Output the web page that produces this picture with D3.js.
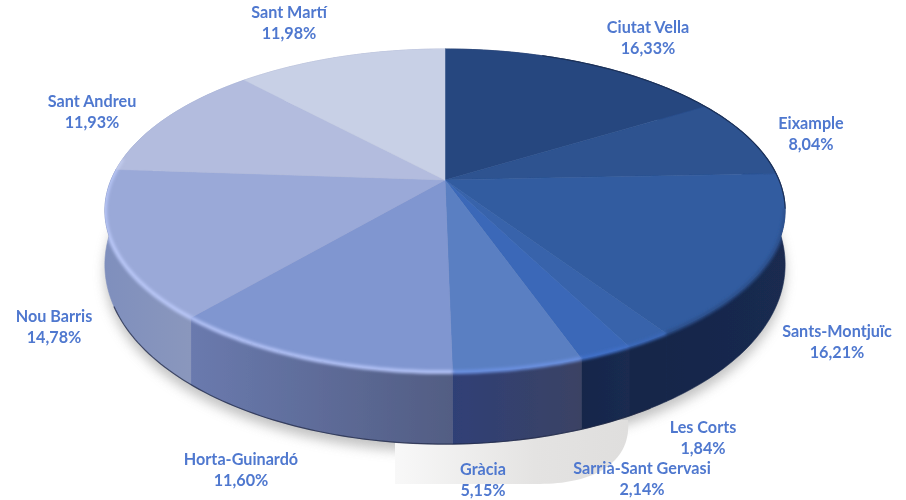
<!DOCTYPE html>
<html>
<head>
<meta charset="utf-8">
<script src="https://d3js.org/d3.v7.min.js"></script>
<style>
html, body { margin: 0; padding: 0; background: #fff; }
svg { display: block; }
</style>
</head>
<body>
<div id="chart"></div>
<script>
// Districts, clockwise from 12 o'clock
var districts = ["Ciutat Vella", "Eixample", "Sants-Montjuïc", "Les Corts", "Sarrià-Sant Gervasi", "Gràcia", "Horta-Guinardó", "Nou Barris", "Sant Andreu", "Sant Martí"]
var shares = [16.33, 8.04, 16.21, 1.84, 2.14, 5.15, 11.60, 14.78, 11.93, 11.98]

// Styles
var topColors = ["#27477f", "#2d5290", "#325ca0", "#3763ab", "#3a68b8", "#5a7fc2", "#8096d0", "#9aa9d8", "#b3bcde", "#c8d0e6"]
var wallLeft = ["#1f3563", "#1a2d56", "#16264a", "#16264a", "#16264a", "#2f4076", "#6a7aae", "#7f8fbd", "#97a3ca", "#a0a8c8"]
var wallRight = ["#1f3563", "#1f3563", "#1a2a50", "#16264a", "#1a2a50", "#3b4364", "#525d83", "#8a97bd", "#97a3ca", "#a0a8c8"]
var bevelColors = ["#1b3058", "#1b3058", "#2b4f8c", "#3a68b8", "#4070c8", "#6a90e0", "#b0c0f4", "#b8c6f6", "#c4cdf0", "#c8d0e6"]
// label centres, by hand like the original layout
var labelPos = [[648, 37], [811, 133], [837, 341], [703, 437], [642, 478], [483, 479], [241, 469], [54, 326], [92, 111], [289, 22]]

var width = 906, height = 500

var svg = d3.select("#chart").append("svg")
    .attr("width", width)
    .attr("height", height)

var defs = svg.append("defs")
defs.append("filter").attr("id", "shadowBlur")
    .attr("x", "-20%").attr("y", "-20%").attr("width", "140%").attr("height", "140%")
    .append("feGaussianBlur").attr("stdDeviation", 6)
defs.append("filter").attr("id", "bevelBlur")
    .attr("x", "-5%").attr("y", "-5%").attr("width", "110%").attr("height", "110%")
    .append("feGaussianBlur").attr("stdDeviation", 1.6)
defs.append("filter").attr("id", "edgeBlur")
    .attr("x", "-5%").attr("y", "-5%").attr("width", "110%").attr("height", "110%")
    .append("feGaussianBlur").attr("stdDeviation", 0.6)
defs.append("filter").attr("id", "soft")
    .attr("x", "-5%").attr("y", "-5%").attr("width", "110%").attr("height", "110%")
    .append("feGaussianBlur").attr("stdDeviation", 0.4)
defs.append("filter").attr("id", "textSoft")
    .append("feGaussianBlur").attr("stdDeviation", 0.35)

var patchGrad = defs.append("linearGradient")
    .attr("id", "patchGrad")
    .attr("x1", 0).attr("x2", 1).attr("y1", 0).attr("y2", 0)
patchGrad.append("stop").attr("offset", 0).attr("stop-color", "#f8f8f8")
patchGrad.append("stop").attr("offset", 0.6).attr("stop-color", "#e4e3e2")
patchGrad.append("stop").attr("offset", 1).attr("stop-color", "#dfdedd")

// Perspective of the disc: the apex sits above the middle of the rim ellipse
var cx = 445, cy = 180, a = 334, b = 155.8, k = -0.189

function project(angle, drop) {
    var u = Math.sin(angle), v = -Math.cos(angle)
    var den = 1 + k*v
    var extra = drop ? 50 + 22*v : 0
    return [cx + a*u/den, cy + b*v/den + extra]
}

function rimPoints(start, end, drop) {
    var n = Math.max(2, Math.ceil((end - start)/0.02))
    return d3.range(n + 1).map(function(i) {
        return project(start + (end - start)*i/n, drop)
    })
}

var line = d3.line()
var pie = d3.pie().sort(null).value(function(d) { return d })
var arcs = pie(shares)

// keeps the bevel glow from leaking outside the pie
var pieClip = defs.append("clipPath").attr("id", "pieClip")
pieClip.append("path").attr("d", line(rimPoints(0, 2*Math.PI, false)) + "Z")
pieClip.append("path").attr("d", line(rimPoints(1.4, 4.9, false).concat(rimPoints(1.4, 4.9, true).reverse())) + "Z")

// Shadows
var full = rimPoints(0, 2*Math.PI, true)
svg.append("path")
    .attr("d", line(full.map(function(p) { return [p[0], p[1] + 8] })) + "Z")
    .style("fill", "#a8a8a8")
    .style("opacity", 0.7)
    .attr("filter", "url(#shadowBlur)")

// light patch under the pie
var patch = d3.path()
patch.moveTo(395, 420)
patch.lineTo(628, 420)
patch.bezierCurveTo(632, 465, 590, 484, 540, 484)
patch.lineTo(395, 484)
patch.closePath()
svg.append("path")
    .attr("d", patch)
    .style("fill", "url(#patchGrad)")
    .attr("filter", "url(#soft)")

var pieGroup = svg.append("g").attr("filter", "url(#soft)")

// Walls
arcs.forEach(function(d, i) {
    var upper = rimPoints(d.startAngle, d.endAngle, false)
    var lower = rimPoints(d.startAngle, d.endAngle, true).reverse()
    var xs = upper.map(function(p) { return p[0] })
    var grad = defs.append("linearGradient")
        .attr("id", "wall" + i)
        .attr("gradientUnits", "userSpaceOnUse")
        .attr("x1", d3.min(xs)).attr("x2", d3.max(xs))
        .attr("y1", 0).attr("y2", 0)
    grad.append("stop").attr("offset", 0).attr("stop-color", wallLeft[i])
    grad.append("stop").attr("offset", 1).attr("stop-color", wallRight[i])
    pieGroup.append("path")
        .attr("d", line(upper.concat(lower)) + "Z")
        .style("fill", "url(#wall" + i + ")")
        .style("stroke", "url(#wall" + i + ")")
        .style("stroke-width", 0.6)
})

// dark line where the wall meets the ground
svg.append("path")
    .attr("d", line(rimPoints(2.6, 4.3, true)))
    .style("fill", "none")
    .style("stroke", "#1b2340")
    .style("stroke-width", 1.2)
    .style("opacity", 0.7)
    .attr("filter", "url(#edgeBlur)")

// Top face
arcs.forEach(function(d, i) {
    var rim = rimPoints(d.startAngle, d.endAngle, false)
    pieGroup.append("path")
        .attr("d", line([[cx, cy]].concat(rim)) + "Z")
        .style("fill", topColors[i])
        .style("stroke", topColors[i])
        .style("stroke-width", 0.5)
})

// Dark edge on the far right of the rim
svg.append("g").attr("filter", "url(#edgeBlur)")
    .append("path")
    .attr("d", line(rimPoints(0.35, 1.75, false)))
    .style("fill", "none")
    .style("stroke", "#1b3058")
    .style("stroke-width", 1.2)

// Light bevel along the front of the rim only
var bevel = svg.append("g")
    .attr("clip-path", "url(#pieClip)")
    .append("g")
    .attr("filter", "url(#bevelBlur)")
arcs.forEach(function(d, i) {
    var start = Math.max(d.startAngle, 1.75), end = Math.min(d.endAngle, 4.85)
    if (end <= start) return
    bevel.append("path")
        .attr("d", line(rimPoints(start, end, false)))
        .style("fill", "none")
        .style("stroke", bevelColors[i])
        .style("stroke-width", 4)
})

// Labels
var labels = svg.append("g")
    .attr("filter", "url(#textSoft)")
    .style("font-family", "Lato, 'Open Sans', sans-serif")
    .style("font-weight", 700)
    .style("font-size", "16.2px")
    .style("fill", "#4f78cf")
    .style("text-anchor", "middle")

districts.forEach(function(name, i) {
    var t = labels.append("text")
        .attr("x", labelPos[i][0])
        .attr("y", labelPos[i][1] - 4)
    t.append("tspan").text(name)
    t.append("tspan")
        .attr("x", labelPos[i][0])
        .attr("dy", 21)
        .text(d3.format(".2f")(shares[i]).replace(".", ",") + "%")
})
</script>
</body>
</html>
